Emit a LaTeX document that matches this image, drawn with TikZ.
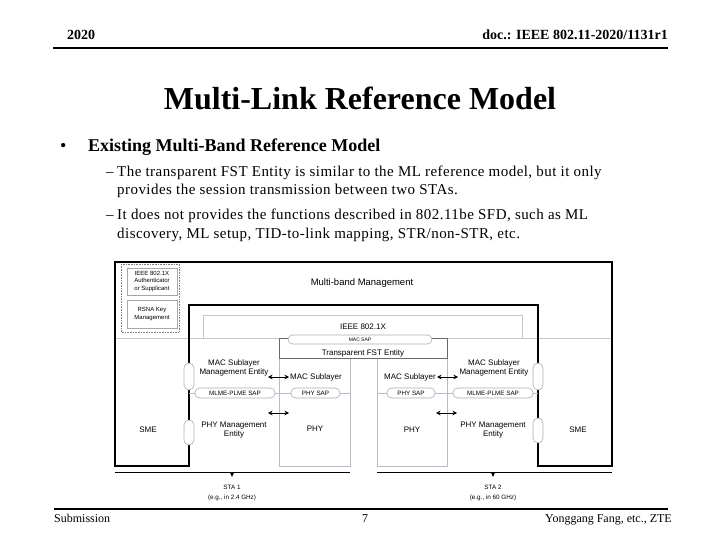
\documentclass[tikz,border=0pt]{standalone}
\usepackage{fontspec}
\setmainfont{Liberation Serif}
\newfontfamily\diagfont{Liberation Sans}
\newfontfamily\bodyfont[LetterSpace=3.0]{Liberation Serif}
\usetikzlibrary{arrows.meta}
\definecolor{boxgray}{HTML}{C4C8CE}
\definecolor{colgray}{HTML}{B4BCC8}
\definecolor{darkline}{HTML}{6A6A6A}
\definecolor{pillgray}{HTML}{A8ADB4}
\begin{document}
\begin{tikzpicture}[x=1pt,y=-1pt,
  hdr/.style={font=\bfseries\fontsize{14}{16}\selectfont, inner sep=0},
  foot/.style={font=\fontsize{12}{14}\selectfont, inner sep=0},
  body/.style={font=\bodyfont\fontsize{15}{17}\selectfont, inner sep=0, anchor=base west},
  dashmark/.style={font=\fontsize{15}{17}\selectfont, inner sep=0, anchor=base west},
  dtext/.style={font=\diagfont\fontsize{8}{9}\selectfont, align=center, inner sep=0},
  stext/.style={font=\diagfont\fontsize{6}{7.5}\selectfont, align=center, inner sep=0},
  saptext/.style={font=\diagfont\fontsize{6.3}{7}\selectfont, align=center, inner sep=0},
  pill/.style={draw=pillgray, fill=white, rounded corners=4.5pt, line width=0.6pt},
  vpill/.style={draw=pillgray, fill=white, rounded corners=5pt, line width=0.6pt, minimum width=10pt, inner sep=0},
  graybox/.style={draw=boxgray, line width=0.7pt, inner sep=0},
  colbox/.style={draw=colgray, line width=0.7pt, inner sep=0},
  dbl/.style={{Stealth[length=4.5pt,width=4.5pt]}-{Stealth[length=4.5pt,width=4.5pt]}, line width=1pt},
]
\useasboundingbox (0,0) rectangle (720,540);

% header
\node[hdr, anchor=base west] (year) at (67,40) {2020};
\node[hdr, anchor=base east] (doc) at (668,40) {doc.: IEEE 802.11-2020/1131r1};
\coordinate (hl) at (53,48); \coordinate (hr) at (668,48);
\draw[line width=2.5pt] (hl) -- (hr);

% title
\node[font=\bfseries\fontsize{32}{34}\selectfont, inner sep=0] (title) at (360,98) {Multi-Link Reference Model};

% bullets
\node[font=\fontsize{18}{20}\selectfont, inner sep=0, anchor=base west] (bul) at (60,152) {\textbullet};
\node[font=\bfseries\fontsize{18}{20}\selectfont, inner sep=0, anchor=base west] (b1) at (88,152) {Existing Multi-Band Reference Model};
\node[dashmark] (d1) at (106,177) {\textendash};
\node[body] (l1) at (117,177) {The transparent FST Entity is similar to the ML reference model, but it only};
\node[body] (l2) at (117,195) {provides the session transmission between two STAs.};
\node[dashmark] (d2) at (106,220) {\textendash};
\node[body] (l3) at (117,220) {It does not provides the functions described in 802.11be SFD, such as ML};
\node[body] (l4) at (117,238) {discovery, ML setup, TID-to-link mapping, STR/non-STR, etc.};

% ---------------- diagram ----------------
\draw[boxgray, line width=0.6pt] (115,338) -- (612,338);

% IEEE 802.1X box
\node[graybox, minimum width=319pt, minimum height=23pt] (ieee) at (362.5,326.5) {};
\node[dtext] (ieeet) at (363,327) {IEEE 802.1X};

% main frame
\draw[line width=1.6pt] (115,262) -- (612,262) -- (612,466) -- (538,466) -- (538,305) -- (189,305) -- (189,466) -- (115,466) -- cycle;

% dotted group at top-left
\draw[gray, densely dotted, line width=0.6pt] (121,264) rectangle (179,332);
\node[graybox, draw=gray!70, minimum width=50pt, minimum height=27pt, stext] (auth) at (152,281.5) {IEEE 802.1X\\Authenticator\\or Supplicant};
\node[graybox, draw=gray!70, minimum width=50pt, minimum height=28pt, stext] (rsna) at (152,314) {RSNA Key\\Management};

\node[dtext, font=\diagfont\fontsize{9.5}{11}\selectfont] (mbm) at (362,283) {Multi-band Management};

% columns
\node[colbox, minimum width=71pt, minimum height=108pt] (colL) at (314.5,412) {};
\node[colbox, minimum width=70pt, minimum height=108pt] (colR) at (412,412) {};

% SAP line
\draw[colgray, line width=0.7pt] (189,393) -- (350,393);
\draw[colgray, line width=0.7pt] (377,393) -- (538,393);

% Transparent FST entity
\node[draw=darkline, line width=0.9pt, minimum width=168pt, minimum height=20pt, inner sep=0] (fst) at (363,348) {};
\node[dtext] (fstt) at (363,353) {Transparent FST Entity};
\node[pill, minimum width=144pt, minimum height=9pt, inner sep=0, saptext, font=\diagfont\fontsize{5}{6}\selectfont] (macsap) at (360,339.5) {MAC SAP};

% pills on SAP line
\node[pill, minimum width=80pt, minimum height=10pt, saptext] (mlmeL) at (235,393) {MLME-PLME SAP};
\node[pill, minimum width=49pt, minimum height=10pt, saptext] (phySL) at (315.5,393) {PHY SAP};
\node[pill, minimum width=48pt, minimum height=10pt, saptext] (phySR) at (411,393) {PHY SAP};
\node[pill, minimum width=80pt, minimum height=10pt, saptext] (mlmeR) at (493,393) {MLME-PLME SAP};

% vertical pills on frame
\node[vpill, minimum height=27pt] (vL1) at (189,376.5) {};
\node[vpill, minimum height=25pt] (vL2) at (189,432.5) {};
\node[vpill, minimum height=27pt] (vR1) at (538,376.5) {};
\node[vpill, minimum height=25pt] (vR2) at (538,430.5) {};

% texts
\node[dtext] (mlmeEL) at (234,368) {MAC Sublayer\\Management Entity};
\node[dtext] (plmeEL) at (234,430) {PHY Management\\Entity};
\node[dtext] (mlmeER) at (494,368) {MAC Sublayer\\Management Entity};
\node[dtext] (plmeER) at (493,430) {PHY Management\\Entity};
\node[dtext] (macL) at (316,377) {MAC Sublayer};
\node[dtext] (macR) at (410,377) {MAC Sublayer};
\node[dtext] (phyL) at (315,429) {PHY};
\node[dtext] (phyR) at (412,430) {PHY};
\node[dtext] (smeL) at (148,430) {SME};
\node[dtext] (smeR) at (578,430) {SME};

% double arrows
\coordinate (a1a) at (268,377); \coordinate (a1b) at (289,377);
\coordinate (a2a) at (268,413); \coordinate (a2b) at (289,413);
\coordinate (a3a) at (437,377); \coordinate (a3b) at (458,377);
\coordinate (a4a) at (436,413); \coordinate (a4b) at (457,413);
\draw[dbl] (a1a) -- (a1b);
\draw[dbl] (a2a) -- (a2b);
\draw[dbl] (a3a) -- (a3b);
\draw[dbl] (a4a) -- (a4b);

% STA baselines
\coordinate (s1a) at (115,472); \coordinate (s1b) at (350,472);
\coordinate (s2a) at (377,472); \coordinate (s2b) at (612,472);
\draw[line width=1pt] (s1a) -- (s1b);
\draw[line width=1pt] (s2a) -- (s2b);
\fill (230,472.5) -- (234,472.5) -- (232,477) -- cycle;
\fill (491,472.5) -- (495,472.5) -- (493,477) -- cycle;
\node[dtext, font=\diagfont\fontsize{6.3}{10}\selectfont] (sta1) at (232,493) {STA 1\\(e.g., in 2.4 GHz)};
\node[dtext, font=\diagfont\fontsize{6.3}{10}\selectfont] (sta2) at (493,493) {STA 2\\(e.g., in 60 GHz)};

% footer
\coordinate (fl) at (54,509); \coordinate (fr) at (668,509);
\draw[line width=2.5pt] (fl) -- (fr);
\node[foot, anchor=base west] (sub) at (54,522) {Submission};
\node[foot, anchor=base] (page) at (365,522) {7};
\node[foot, anchor=base east] (auth2) at (672,522) {Yonggang Fang, etc., ZTE};
\end{tikzpicture}
\end{document}
